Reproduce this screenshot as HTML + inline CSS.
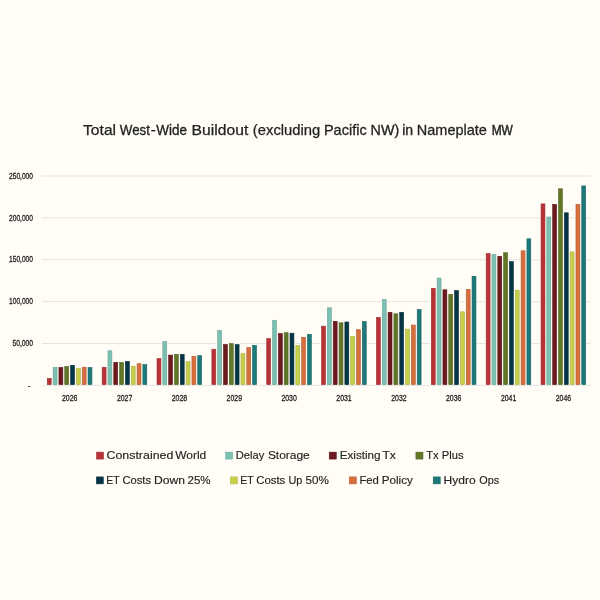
<!DOCTYPE html>
<html lang="en"><head><meta charset="utf-8"><title>Total West-Wide Buildout</title>
<style>html,body{margin:0;padding:0;background:#FFFDF5;}body{width:600px;height:600px;overflow:hidden;}svg{display:block;}text{font-family:"Liberation Sans",sans-serif;fill:#222222;stroke:#222222;stroke-width:0.3px;}.t{stroke-width:0.25px;}.l{stroke-width:0.15px;}</style>
</head><body>
<svg width="600" height="600" viewBox="0 0 600 600">
<rect x="0" y="0" width="600" height="600" fill="#FFFDF5"/>
<g stroke="#E3E3E0" stroke-width="1">
<line x1="42.1" y1="385.35" x2="590.8" y2="385.35"/>
<line x1="42.1" y1="343.48" x2="590.8" y2="343.48"/>
<line x1="42.1" y1="301.61" x2="590.8" y2="301.61"/>
<line x1="42.1" y1="259.74" x2="590.8" y2="259.74"/>
<line x1="42.1" y1="217.87" x2="590.8" y2="217.87"/>
<line x1="42.1" y1="176.00" x2="590.8" y2="176.00"/>
</g>
<g fill="#FFFDF5">
<rect x="46.20" y="377.20" width="6.10" height="7.55"/>
<rect x="52.02" y="366.40" width="6.10" height="18.35"/>
<rect x="57.84" y="366.40" width="6.10" height="18.35"/>
<rect x="63.66" y="365.40" width="6.10" height="19.35"/>
<rect x="69.48" y="364.20" width="6.10" height="20.55"/>
<rect x="75.30" y="367.40" width="6.10" height="17.35"/>
<rect x="81.12" y="366.10" width="6.10" height="18.65"/>
<rect x="86.94" y="366.40" width="6.10" height="18.35"/>
<rect x="101.06" y="366.20" width="6.10" height="18.55"/>
<rect x="106.88" y="349.70" width="6.10" height="35.05"/>
<rect x="112.70" y="361.20" width="6.10" height="23.55"/>
<rect x="118.52" y="361.30" width="6.10" height="23.45"/>
<rect x="124.34" y="360.40" width="6.10" height="24.35"/>
<rect x="130.16" y="365.10" width="6.10" height="19.65"/>
<rect x="135.98" y="362.60" width="6.10" height="22.15"/>
<rect x="141.80" y="363.50" width="6.10" height="21.25"/>
<rect x="155.92" y="357.50" width="6.10" height="27.25"/>
<rect x="161.74" y="340.50" width="6.10" height="44.25"/>
<rect x="167.56" y="354.00" width="6.10" height="30.75"/>
<rect x="173.38" y="353.20" width="6.10" height="31.55"/>
<rect x="179.20" y="353.20" width="6.10" height="31.55"/>
<rect x="185.02" y="360.50" width="6.10" height="24.25"/>
<rect x="190.84" y="355.20" width="6.10" height="29.55"/>
<rect x="196.66" y="354.50" width="6.10" height="30.25"/>
<rect x="210.78" y="348.10" width="6.10" height="36.65"/>
<rect x="216.60" y="329.50" width="6.10" height="55.25"/>
<rect x="222.42" y="343.40" width="6.10" height="41.35"/>
<rect x="228.24" y="342.50" width="6.10" height="42.25"/>
<rect x="234.06" y="343.50" width="6.10" height="41.25"/>
<rect x="239.88" y="352.50" width="6.10" height="32.25"/>
<rect x="245.70" y="346.30" width="6.10" height="38.45"/>
<rect x="251.52" y="344.30" width="6.10" height="40.45"/>
<rect x="265.64" y="337.50" width="6.10" height="47.25"/>
<rect x="271.46" y="319.20" width="6.10" height="65.55"/>
<rect x="277.28" y="332.50" width="6.10" height="52.25"/>
<rect x="283.10" y="331.60" width="6.10" height="53.15"/>
<rect x="288.92" y="332.10" width="6.10" height="52.65"/>
<rect x="294.74" y="344.30" width="6.10" height="40.45"/>
<rect x="300.56" y="336.30" width="6.10" height="48.45"/>
<rect x="306.38" y="333.20" width="6.10" height="51.55"/>
<rect x="320.50" y="325.10" width="6.10" height="59.65"/>
<rect x="326.32" y="306.70" width="6.10" height="78.05"/>
<rect x="332.14" y="320.20" width="6.10" height="64.55"/>
<rect x="337.96" y="321.70" width="6.10" height="63.05"/>
<rect x="343.78" y="320.90" width="6.10" height="63.85"/>
<rect x="349.60" y="335.20" width="6.10" height="49.55"/>
<rect x="355.42" y="328.60" width="6.10" height="56.15"/>
<rect x="361.24" y="320.50" width="6.10" height="64.25"/>
<rect x="375.36" y="316.40" width="6.10" height="68.35"/>
<rect x="381.18" y="298.40" width="6.10" height="86.35"/>
<rect x="387.00" y="311.20" width="6.10" height="73.55"/>
<rect x="392.82" y="312.70" width="6.10" height="72.05"/>
<rect x="398.64" y="311.20" width="6.10" height="73.55"/>
<rect x="404.46" y="328.00" width="6.10" height="56.75"/>
<rect x="410.28" y="323.90" width="6.10" height="60.85"/>
<rect x="416.10" y="308.40" width="6.10" height="76.35"/>
<rect x="430.22" y="287.20" width="6.10" height="97.55"/>
<rect x="436.04" y="277.00" width="6.10" height="107.75"/>
<rect x="441.86" y="288.70" width="6.10" height="96.05"/>
<rect x="447.68" y="293.20" width="6.10" height="91.55"/>
<rect x="453.50" y="289.50" width="6.10" height="95.25"/>
<rect x="459.32" y="310.70" width="6.10" height="74.05"/>
<rect x="465.14" y="288.20" width="6.10" height="96.55"/>
<rect x="470.96" y="275.20" width="6.10" height="109.55"/>
<rect x="485.08" y="252.50" width="6.10" height="132.25"/>
<rect x="490.90" y="253.50" width="6.10" height="131.25"/>
<rect x="496.72" y="255.20" width="6.10" height="129.55"/>
<rect x="502.54" y="251.60" width="6.10" height="133.15"/>
<rect x="508.36" y="260.50" width="6.10" height="124.25"/>
<rect x="514.18" y="289.10" width="6.10" height="95.65"/>
<rect x="520.00" y="249.70" width="6.10" height="135.05"/>
<rect x="525.82" y="237.70" width="6.10" height="147.05"/>
<rect x="539.94" y="202.80" width="6.10" height="181.95"/>
<rect x="545.76" y="215.90" width="6.10" height="168.85"/>
<rect x="551.58" y="203.40" width="6.10" height="181.35"/>
<rect x="557.40" y="187.70" width="6.10" height="197.05"/>
<rect x="563.22" y="211.70" width="6.10" height="173.05"/>
<rect x="569.04" y="250.80" width="6.10" height="133.95"/>
<rect x="574.86" y="203.20" width="6.10" height="181.55"/>
<rect x="580.68" y="184.80" width="6.10" height="199.95"/>
</g>
<g>
<rect x="47.30" y="378.30" width="3.90" height="6.35" fill="#B83338" stroke="#9C2B2F" stroke-width="0.6"/>
<rect x="53.12" y="367.50" width="3.90" height="17.15" fill="#7BC0B3" stroke="#68A398" stroke-width="0.6"/>
<rect x="58.94" y="367.50" width="3.90" height="17.15" fill="#6C191F" stroke="#5B151A" stroke-width="0.6"/>
<rect x="64.76" y="366.50" width="3.90" height="18.15" fill="#617627" stroke="#526421" stroke-width="0.6"/>
<rect x="70.58" y="365.30" width="3.90" height="19.35" fill="#053645" stroke="#042D3A" stroke-width="0.6"/>
<rect x="76.40" y="368.50" width="3.90" height="16.15" fill="#C7CE4A" stroke="#A9AF3E" stroke-width="0.6"/>
<rect x="82.22" y="367.20" width="3.90" height="17.45" fill="#D66E3E" stroke="#B55D34" stroke-width="0.6"/>
<rect x="88.04" y="367.50" width="3.90" height="17.15" fill="#1D787A" stroke="#186667" stroke-width="0.6"/>
</g>
<g>
<rect x="102.16" y="367.30" width="3.90" height="17.35" fill="#B83338" stroke="#9C2B2F" stroke-width="0.6"/>
<rect x="107.98" y="350.80" width="3.90" height="33.85" fill="#7BC0B3" stroke="#68A398" stroke-width="0.6"/>
<rect x="113.80" y="362.30" width="3.90" height="22.35" fill="#6C191F" stroke="#5B151A" stroke-width="0.6"/>
<rect x="119.62" y="362.40" width="3.90" height="22.25" fill="#617627" stroke="#526421" stroke-width="0.6"/>
<rect x="125.44" y="361.50" width="3.90" height="23.15" fill="#053645" stroke="#042D3A" stroke-width="0.6"/>
<rect x="131.26" y="366.20" width="3.90" height="18.45" fill="#C7CE4A" stroke="#A9AF3E" stroke-width="0.6"/>
<rect x="137.08" y="363.70" width="3.90" height="20.95" fill="#D66E3E" stroke="#B55D34" stroke-width="0.6"/>
<rect x="142.90" y="364.60" width="3.90" height="20.05" fill="#1D787A" stroke="#186667" stroke-width="0.6"/>
</g>
<g>
<rect x="157.02" y="358.60" width="3.90" height="26.05" fill="#B83338" stroke="#9C2B2F" stroke-width="0.6"/>
<rect x="162.84" y="341.60" width="3.90" height="43.05" fill="#7BC0B3" stroke="#68A398" stroke-width="0.6"/>
<rect x="168.66" y="355.10" width="3.90" height="29.55" fill="#6C191F" stroke="#5B151A" stroke-width="0.6"/>
<rect x="174.48" y="354.30" width="3.90" height="30.35" fill="#617627" stroke="#526421" stroke-width="0.6"/>
<rect x="180.30" y="354.30" width="3.90" height="30.35" fill="#053645" stroke="#042D3A" stroke-width="0.6"/>
<rect x="186.12" y="361.60" width="3.90" height="23.05" fill="#C7CE4A" stroke="#A9AF3E" stroke-width="0.6"/>
<rect x="191.94" y="356.30" width="3.90" height="28.35" fill="#D66E3E" stroke="#B55D34" stroke-width="0.6"/>
<rect x="197.76" y="355.60" width="3.90" height="29.05" fill="#1D787A" stroke="#186667" stroke-width="0.6"/>
</g>
<g>
<rect x="211.88" y="349.20" width="3.90" height="35.45" fill="#B83338" stroke="#9C2B2F" stroke-width="0.6"/>
<rect x="217.70" y="330.60" width="3.90" height="54.05" fill="#7BC0B3" stroke="#68A398" stroke-width="0.6"/>
<rect x="223.52" y="344.50" width="3.90" height="40.15" fill="#6C191F" stroke="#5B151A" stroke-width="0.6"/>
<rect x="229.34" y="343.60" width="3.90" height="41.05" fill="#617627" stroke="#526421" stroke-width="0.6"/>
<rect x="235.16" y="344.60" width="3.90" height="40.05" fill="#053645" stroke="#042D3A" stroke-width="0.6"/>
<rect x="240.98" y="353.60" width="3.90" height="31.05" fill="#C7CE4A" stroke="#A9AF3E" stroke-width="0.6"/>
<rect x="246.80" y="347.40" width="3.90" height="37.25" fill="#D66E3E" stroke="#B55D34" stroke-width="0.6"/>
<rect x="252.62" y="345.40" width="3.90" height="39.25" fill="#1D787A" stroke="#186667" stroke-width="0.6"/>
</g>
<g>
<rect x="266.74" y="338.60" width="3.90" height="46.05" fill="#B83338" stroke="#9C2B2F" stroke-width="0.6"/>
<rect x="272.56" y="320.30" width="3.90" height="64.35" fill="#7BC0B3" stroke="#68A398" stroke-width="0.6"/>
<rect x="278.38" y="333.60" width="3.90" height="51.05" fill="#6C191F" stroke="#5B151A" stroke-width="0.6"/>
<rect x="284.20" y="332.70" width="3.90" height="51.95" fill="#617627" stroke="#526421" stroke-width="0.6"/>
<rect x="290.02" y="333.20" width="3.90" height="51.45" fill="#053645" stroke="#042D3A" stroke-width="0.6"/>
<rect x="295.84" y="345.40" width="3.90" height="39.25" fill="#C7CE4A" stroke="#A9AF3E" stroke-width="0.6"/>
<rect x="301.66" y="337.40" width="3.90" height="47.25" fill="#D66E3E" stroke="#B55D34" stroke-width="0.6"/>
<rect x="307.48" y="334.30" width="3.90" height="50.35" fill="#1D787A" stroke="#186667" stroke-width="0.6"/>
</g>
<g>
<rect x="321.60" y="326.20" width="3.90" height="58.45" fill="#B83338" stroke="#9C2B2F" stroke-width="0.6"/>
<rect x="327.42" y="307.80" width="3.90" height="76.85" fill="#7BC0B3" stroke="#68A398" stroke-width="0.6"/>
<rect x="333.24" y="321.30" width="3.90" height="63.35" fill="#6C191F" stroke="#5B151A" stroke-width="0.6"/>
<rect x="339.06" y="322.80" width="3.90" height="61.85" fill="#617627" stroke="#526421" stroke-width="0.6"/>
<rect x="344.88" y="322.00" width="3.90" height="62.65" fill="#053645" stroke="#042D3A" stroke-width="0.6"/>
<rect x="350.70" y="336.30" width="3.90" height="48.35" fill="#C7CE4A" stroke="#A9AF3E" stroke-width="0.6"/>
<rect x="356.52" y="329.70" width="3.90" height="54.95" fill="#D66E3E" stroke="#B55D34" stroke-width="0.6"/>
<rect x="362.34" y="321.60" width="3.90" height="63.05" fill="#1D787A" stroke="#186667" stroke-width="0.6"/>
</g>
<g>
<rect x="376.46" y="317.50" width="3.90" height="67.15" fill="#B83338" stroke="#9C2B2F" stroke-width="0.6"/>
<rect x="382.28" y="299.50" width="3.90" height="85.15" fill="#7BC0B3" stroke="#68A398" stroke-width="0.6"/>
<rect x="388.10" y="312.30" width="3.90" height="72.35" fill="#6C191F" stroke="#5B151A" stroke-width="0.6"/>
<rect x="393.92" y="313.80" width="3.90" height="70.85" fill="#617627" stroke="#526421" stroke-width="0.6"/>
<rect x="399.74" y="312.30" width="3.90" height="72.35" fill="#053645" stroke="#042D3A" stroke-width="0.6"/>
<rect x="405.56" y="329.10" width="3.90" height="55.55" fill="#C7CE4A" stroke="#A9AF3E" stroke-width="0.6"/>
<rect x="411.38" y="325.00" width="3.90" height="59.65" fill="#D66E3E" stroke="#B55D34" stroke-width="0.6"/>
<rect x="417.20" y="309.50" width="3.90" height="75.15" fill="#1D787A" stroke="#186667" stroke-width="0.6"/>
</g>
<g>
<rect x="431.32" y="288.30" width="3.90" height="96.35" fill="#B83338" stroke="#9C2B2F" stroke-width="0.6"/>
<rect x="437.14" y="278.10" width="3.90" height="106.55" fill="#7BC0B3" stroke="#68A398" stroke-width="0.6"/>
<rect x="442.96" y="289.80" width="3.90" height="94.85" fill="#6C191F" stroke="#5B151A" stroke-width="0.6"/>
<rect x="448.78" y="294.30" width="3.90" height="90.35" fill="#617627" stroke="#526421" stroke-width="0.6"/>
<rect x="454.60" y="290.60" width="3.90" height="94.05" fill="#053645" stroke="#042D3A" stroke-width="0.6"/>
<rect x="460.42" y="311.80" width="3.90" height="72.85" fill="#C7CE4A" stroke="#A9AF3E" stroke-width="0.6"/>
<rect x="466.24" y="289.30" width="3.90" height="95.35" fill="#D66E3E" stroke="#B55D34" stroke-width="0.6"/>
<rect x="472.06" y="276.30" width="3.90" height="108.35" fill="#1D787A" stroke="#186667" stroke-width="0.6"/>
</g>
<g>
<rect x="486.18" y="253.60" width="3.90" height="131.05" fill="#B83338" stroke="#9C2B2F" stroke-width="0.6"/>
<rect x="492.00" y="254.60" width="3.90" height="130.05" fill="#7BC0B3" stroke="#68A398" stroke-width="0.6"/>
<rect x="497.82" y="256.30" width="3.90" height="128.35" fill="#6C191F" stroke="#5B151A" stroke-width="0.6"/>
<rect x="503.64" y="252.70" width="3.90" height="131.95" fill="#617627" stroke="#526421" stroke-width="0.6"/>
<rect x="509.46" y="261.60" width="3.90" height="123.05" fill="#053645" stroke="#042D3A" stroke-width="0.6"/>
<rect x="515.28" y="290.20" width="3.90" height="94.45" fill="#C7CE4A" stroke="#A9AF3E" stroke-width="0.6"/>
<rect x="521.10" y="250.80" width="3.90" height="133.85" fill="#D66E3E" stroke="#B55D34" stroke-width="0.6"/>
<rect x="526.92" y="238.80" width="3.90" height="145.85" fill="#1D787A" stroke="#186667" stroke-width="0.6"/>
</g>
<g>
<rect x="541.04" y="203.90" width="3.90" height="180.75" fill="#B83338" stroke="#9C2B2F" stroke-width="0.6"/>
<rect x="546.86" y="217.00" width="3.90" height="167.65" fill="#7BC0B3" stroke="#68A398" stroke-width="0.6"/>
<rect x="552.68" y="204.50" width="3.90" height="180.15" fill="#6C191F" stroke="#5B151A" stroke-width="0.6"/>
<rect x="558.50" y="188.80" width="3.90" height="195.85" fill="#617627" stroke="#526421" stroke-width="0.6"/>
<rect x="564.32" y="212.80" width="3.90" height="171.85" fill="#053645" stroke="#042D3A" stroke-width="0.6"/>
<rect x="570.14" y="251.90" width="3.90" height="132.75" fill="#C7CE4A" stroke="#A9AF3E" stroke-width="0.6"/>
<rect x="575.96" y="204.30" width="3.90" height="180.35" fill="#D66E3E" stroke="#B55D34" stroke-width="0.6"/>
<rect x="581.78" y="185.90" width="3.90" height="198.75" fill="#1D787A" stroke="#186667" stroke-width="0.6"/>
</g>
<text class="t" y="135.4" font-size="14.6"><tspan x="83.05" textLength="33.05" lengthAdjust="spacingAndGlyphs">Total</tspan> <tspan x="119.83" textLength="30.10" lengthAdjust="spacingAndGlyphs" stroke-width="0.311">West</tspan><tspan x="150.70" textLength="5.00" lengthAdjust="spacingAndGlyphs">-</tspan><tspan x="156.32" textLength="30.75" lengthAdjust="spacingAndGlyphs" stroke-width="0.313">Wide</tspan> <tspan x="191.57" textLength="56.78" lengthAdjust="spacingAndGlyphs">Buildout</tspan> <tspan x="252.85" textLength="67.43" lengthAdjust="spacingAndGlyphs">(excluding</tspan> <tspan x="323.90" textLength="42.75" lengthAdjust="spacingAndGlyphs" stroke-width="0.263">Pacific</tspan> <tspan x="370.60" textLength="28.60" lengthAdjust="spacingAndGlyphs" stroke-width="0.307">NW)</tspan> <tspan x="402.15" textLength="10.93" lengthAdjust="spacingAndGlyphs" stroke-width="0.351">in</tspan> <tspan x="416.80" textLength="70.07" lengthAdjust="spacingAndGlyphs" stroke-width="0.267">Nameplate</tspan> <tspan x="491.65" textLength="21.20" lengthAdjust="spacingAndGlyphs" stroke-width="0.451">MW</tspan></text>
<text x="28.1" y="388.6" font-size="9.2" textLength="2.4" lengthAdjust="spacingAndGlyphs">-</text>
<text x="12.4" y="346.1" font-size="9.2" textLength="20.6" lengthAdjust="spacingAndGlyphs">50,000</text>
<text x="9.0" y="304.2" font-size="9.2" textLength="24.0" lengthAdjust="spacingAndGlyphs">100,000</text>
<text x="9.0" y="262.3" font-size="9.2" textLength="24.0" lengthAdjust="spacingAndGlyphs">150,000</text>
<text x="9.0" y="220.5" font-size="9.2" textLength="24.0" lengthAdjust="spacingAndGlyphs">200,000</text>
<text x="9.0" y="178.6" font-size="9.2" textLength="24.0" lengthAdjust="spacingAndGlyphs">250,000</text>
<text x="62.0" y="401.4" font-size="9.2" textLength="15.4" lengthAdjust="spacingAndGlyphs">2026</text>
<text x="116.9" y="401.4" font-size="9.2" textLength="15.4" lengthAdjust="spacingAndGlyphs">2027</text>
<text x="171.7" y="401.4" font-size="9.2" textLength="15.4" lengthAdjust="spacingAndGlyphs">2028</text>
<text x="226.6" y="401.4" font-size="9.2" textLength="15.4" lengthAdjust="spacingAndGlyphs">2029</text>
<text x="281.4" y="401.4" font-size="9.2" textLength="15.4" lengthAdjust="spacingAndGlyphs">2030</text>
<text x="336.3" y="401.4" font-size="9.2" textLength="15.4" lengthAdjust="spacingAndGlyphs">2031</text>
<text x="391.2" y="401.4" font-size="9.2" textLength="15.4" lengthAdjust="spacingAndGlyphs">2032</text>
<text x="446.0" y="401.4" font-size="9.2" textLength="15.4" lengthAdjust="spacingAndGlyphs">2036</text>
<text x="500.9" y="401.4" font-size="9.2" textLength="15.4" lengthAdjust="spacingAndGlyphs">2041</text>
<text x="555.7" y="401.4" font-size="9.2" textLength="15.4" lengthAdjust="spacingAndGlyphs">2046</text>
<rect x="96.5" y="452.1" width="7.1" height="7" fill="#B83338" stroke="#9C2B2F" stroke-width="0.5"/>
<text class="l" y="459.1" font-size="11.4"><tspan x="106.50" textLength="66.82" lengthAdjust="spacingAndGlyphs">Constrained</tspan> <tspan x="175.20" textLength="31.05" lengthAdjust="spacingAndGlyphs">World</tspan></text>
<rect x="225.6" y="452.1" width="7.1" height="7" fill="#7BC0B3" stroke="#68A398" stroke-width="0.5"/>
<text class="l" y="459.1" font-size="11.4"><tspan x="235.82" textLength="28.52" lengthAdjust="spacingAndGlyphs">Delay</tspan> <tspan x="267.90" textLength="41.80" lengthAdjust="spacingAndGlyphs">Storage</tspan></text>
<rect x="329.2" y="452.1" width="7.1" height="7" fill="#6C191F" stroke="#5B151A" stroke-width="0.5"/>
<text class="l" y="459.1" font-size="11.4"><tspan x="339.73" textLength="40.85" lengthAdjust="spacingAndGlyphs">Existing</tspan> <tspan x="382.48" textLength="13.40" lengthAdjust="spacingAndGlyphs">Tx</tspan></text>
<rect x="415.9" y="452.1" width="7.1" height="7" fill="#617627" stroke="#526421" stroke-width="0.5"/>
<text class="l" y="459.1" font-size="11.4"><tspan x="426.18" textLength="12.32" lengthAdjust="spacingAndGlyphs">Tx</tspan> <tspan x="441.82" textLength="21.90" lengthAdjust="spacingAndGlyphs">Plus</tspan></text>
<rect x="96.3" y="476.9" width="7.1" height="7" fill="#053645" stroke="#042D3A" stroke-width="0.5"/>
<text class="l" y="483.8" font-size="11.4"><tspan x="106.35" textLength="13.15" lengthAdjust="spacingAndGlyphs">ET</tspan> <tspan x="122.40" textLength="28.60" lengthAdjust="spacingAndGlyphs">Costs</tspan> <tspan x="154.12" textLength="30.93" lengthAdjust="spacingAndGlyphs">Down</tspan> <tspan x="187.50" textLength="23.10" lengthAdjust="spacingAndGlyphs">25%</tspan></text>
<rect x="230.4" y="476.9" width="7.1" height="7" fill="#C7CE4A" stroke="#A9AF3E" stroke-width="0.5"/>
<text class="l" y="483.8" font-size="11.4"><tspan x="240.35" textLength="13.23" lengthAdjust="spacingAndGlyphs">ET</tspan> <tspan x="256.20" textLength="29.10" lengthAdjust="spacingAndGlyphs">Costs</tspan> <tspan x="288.45" textLength="13.98" lengthAdjust="spacingAndGlyphs">Up</tspan> <tspan x="305.62" textLength="23.33" lengthAdjust="spacingAndGlyphs">50%</tspan></text>
<rect x="349.2" y="476.9" width="7.1" height="7" fill="#D66E3E" stroke="#B55D34" stroke-width="0.5"/>
<text class="l" y="483.8" font-size="11.4"><tspan x="359.43" textLength="19.50" lengthAdjust="spacingAndGlyphs">Fed</tspan> <tspan x="381.73" textLength="31.17" lengthAdjust="spacingAndGlyphs">Policy</tspan></text>
<rect x="433.2" y="476.9" width="7.1" height="7" fill="#1D787A" stroke="#186667" stroke-width="0.5"/>
<text class="l" y="483.8" font-size="11.4"><tspan x="443.43" textLength="32.25" lengthAdjust="spacingAndGlyphs">Hydro</tspan> <tspan x="479.32" textLength="19.83" lengthAdjust="spacingAndGlyphs">Ops</tspan></text>
</svg>
</body></html>
